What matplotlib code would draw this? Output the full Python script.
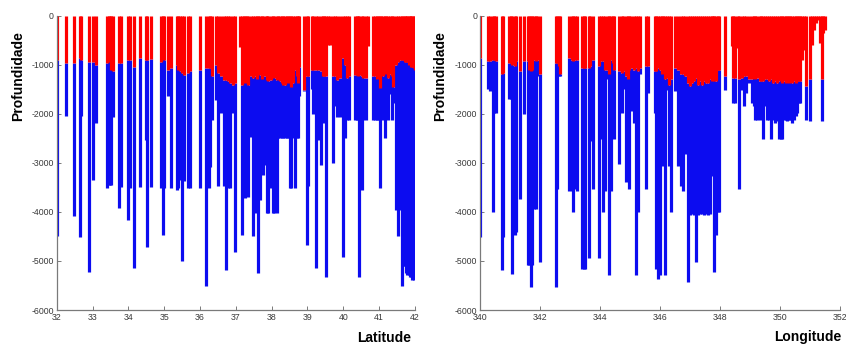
import matplotlib
matplotlib.use("Agg")
import matplotlib.pyplot as plt

plt.rcParams['axes.unicode_minus'] = False
plt.rcParams['font.family'] = ['Liberation Sans', 'DejaVu Sans']

# ---- Left panel: Latitude profiles (position, depth of red layer, bottom depth)
lat = [32.00, 32.25, 32.48, 32.64, 32.69, 32.91, 33.00, 33.11, 33.40, 33.45, 33.49, 33.52, 33.58,
       33.75, 33.79, 34.00, 34.05, 34.15, 34.33, 34.48, 34.51, 34.62, 34.90, 34.96, 35.00, 35.12,
       35.18, 35.35, 35.40, 35.44, 35.50, 35.55, 35.67, 35.72, 36.00, 36.16, 36.25, 36.29, 36.33,
       36.45, 36.51, 36.59, 36.68, 36.73, 36.78, 36.84, 36.93, 36.98, 37.13, 37.18, 37.22, 37.26,
       37.30, 37.35, 37.41, 37.47, 37.53, 37.58, 37.63, 37.67, 37.72, 37.77, 37.83, 37.86, 37.91,
       37.97, 38.03, 38.07, 38.14, 38.18, 38.23, 38.28, 38.33, 38.37, 38.42, 38.47, 38.51, 38.54,
       38.60, 38.65, 38.70, 38.74, 38.77, 38.90, 38.98, 39.01, 39.12, 39.16, 39.23, 39.30, 39.37,
       39.42, 39.47, 39.52, 39.57, 39.62, 39.72, 39.77, 39.83, 39.91, 40.00, 40.05, 40.09, 40.17,
       40.33, 40.37, 40.41, 40.45, 40.51, 40.55, 40.62, 40.70, 40.84, 40.88, 40.93, 40.98, 41.02,
       41.06, 41.10, 41.16, 41.20, 41.24, 41.30, 41.35, 41.40, 41.47, 41.53, 41.58, 41.63, 41.67,
       41.72, 41.76, 41.79, 41.83, 41.86, 41.90, 41.93, 41.97, 42.00]
red_lat = [-900, -970, -970, -870, -900, -940, -940, -1000, -970, -940, -900, -1110, -1140,
           -970, -970, -900, -900, -1040, -870, -900, -900, -890, -940, -870, -900, -1100,
           -1070, -1000, -1110, -1140, -1180, -1210, -1180, -1140, -1110, -1070, -1070, -1070, -1240,
           -1000, -1180, -1240, -1310, -1310, -1340, -1380, -1410, -1380, -650, -1410, -1380, -1310,
           -1380, -1410, -1240, -1280, -1240, -1300, -1180, -1210, -1300, -1240, -1240, -1310, -1340,
           -1310, -1240, -1280, -1310, -1280, -1340, -1380, -1410, -1410, -1380, -1340, -1380, -1450,
           -1380, -1110, -1240, -1380, -1040, -1510, -1240, -1240, -1110, -1110, -1110, -1110, -1140,
           -1240, -1240, -1240, -600, -600, -1240, -1240, -1310, -1280, -870, -1000, -1280, -1240,
           -1210, -1210, -1240, -1210, -1240, -1280, -1280, -630, -1240, -1240, -1300, -1280, -1480,
           -1200, -1240, -1110, -1200, -1280, -1200, -1240, -1450, -1000, -940, -900, -900, -900,
           -940, -940, -940, -1000, -970, -1040, -1040, -1070, -1110]
bot_lat = [-4500, -2040, -4080, -4520, -2040, -5220, -3350, -2180, -3520, -3450, -3450, -3450, -2060,
           -3930, -3500, -4160, -3520, -5150, -3500, -2530, -4710, -3500, -3520, -4470, -3520, -1650,
           -3520, -3550, -3520, -3350, -5010, -3380, -3520, -3520, -3520, -5520, -3520, -3080, -2130,
           -1720, -3480, -1990, -3480, -5180, -3520, -3520, -1990, -4810, -650, -4470, -3000, -3720,
           -1720, -3690, -2470, -4500, -4030, -3000, -5250, -3760, -3200, -3250, -3040, -4030, -4030,
           -3520, -4030, -4030, -4030, -2500, -2500, -2500, -2500, -2500, -2500, -2500, -3520, -3520,
           -2500, -3520, -2500, -2500, -1650, -1540, -4670, -3480, -1500, -2000, -5150, -2530, -3040,
           -2190, -1500, -5320, -600, -600, -3010, -1850, -2060, -2060, -4910, -2500, -2130, -2130,
           -2130, -2130, -2130, -5320, -3550, -2130, -2130, -630, -2130, -2130, -2130, -2130, -3520,
           -1600, -2130, -2500, -1800, -2130, -1600, -2130, -1790, -3960, -4500, -3960, -5520, -5110,
           -5110, -5250, -5290, -5290, -5320, -5320, -5390, -5390, -4980]

# ---- Right panel: Longitude profiles
lon = [340.00, 340.28, 340.34, 340.42, 340.47, 340.53, 340.73, 340.76, 340.97, 341.03, 341.08,
       341.15, 341.21, 341.34, 341.45, 341.59, 341.63, 341.69, 341.74, 341.80, 341.85, 341.91,
       341.99, 342.52, 342.57, 342.63, 342.68, 342.98, 343.05, 343.10, 343.18, 343.23, 343.40,
       343.47, 343.51, 343.62, 343.68, 343.75, 343.95, 344.03, 344.09, 344.17, 344.25, 344.30,
       344.35, 344.42, 344.48, 344.64, 344.72, 344.78, 344.87, 344.92, 344.98, 345.03, 345.13,
       345.19, 345.28, 345.33, 345.52, 345.61, 345.83, 345.88, 345.94, 345.99, 346.05, 346.10,
       346.18, 346.24, 346.29, 346.38, 346.49, 346.60, 346.69, 346.77, 346.82, 346.93, 347.00,
       347.06, 347.13, 347.20, 347.26, 347.33, 347.40, 347.46, 347.53, 347.59, 347.65, 347.73,
       347.77, 347.81, 347.87, 347.92, 347.98, 348.17, 348.39, 348.44, 348.51, 348.59, 348.64,
       348.72, 348.79, 348.86, 348.97, 349.06, 349.12, 349.17, 349.25, 349.34, 349.38, 349.45,
       349.50, 349.58, 349.64, 349.71, 349.78, 349.82, 349.89, 349.97, 350.02, 350.08, 350.13,
       350.19, 350.24, 350.30, 350.35, 350.41, 350.46, 350.52, 350.57, 350.63, 350.68, 350.74,
       350.80, 350.88, 351.00, 351.07, 351.13, 351.20, 351.27, 351.33, 351.39, 351.45, 351.51]
red_lon = [-865, -930, -930, -900, -900, -930, -1200, -1170, -970, -970, -1000,
           -1030, -930, -1140, -930, -930, -1100, -1140, -1100, -900, -930, -900,
           -1200, -970, -970, -1030, -1200, -865, -900, -930, -900, -900, -1070,
           -1070, -1070, -1070, -1030, -900, -1030, -930, -930, -1100, -1100, -1200,
           -900, -970, -1100, -1140, -1170, -1140, -1240, -1300, -1100, -1070, -1100,
           -1070, -1140, -1070, -1030, -1030, -1140, -1140, -1070, -1100, -1200, -1100,
           -1300, -1270, -1410, -1300, -1070, -1100, -1200, -1200, -1240, -1370, -1440,
           -1370, -1340, -1270, -1410, -1340, -1410, -1340, -1370, -1370, -1300, -1340,
           -1300, -1340, -1340, -1100, -1100, -1240, -630, -1270, -1270, -660, -1300,
           -1270, -1240, -1240, -1300, -1300, -1270, -1300, -1270, -1340, -1340, -1340,
           -1300, -1300, -1340, -1300, -1370, -1340, -1370, -1340, -1300, -1370, -1340,
           -1370, -1340, -1370, -1340, -1370, -1340, -1370, -1340, -1340, -1340, -900,
           -700, -1440, -1300, -600, -300, -150, -100, -550, -1300, -350, -300]
bot_lon = [-4510, -1500, -1540, -4010, -1980, -1980, -5190, -4510, -1710, -1710, -5260,
           -4480, -4410, -3740, -2010, -5090, -5090, -5530, -5090, -3940, -3940, -1240,
           -5020, -5530, -3530, -1240, -1240, -3570, -3570, -4010, -3530, -3570, -5160,
           -5160, -5160, -4950, -2550, -3530, -4950, -2520, -4010, -3570, -1300, -5290,
           -3570, -2390, -2520, -3030, -1980, -1500, -3400, -1950, -3530, -1950, -2180,
           -5290, -4010, -1200, -3530, -1570, -1980, -5160, -5360, -5290, -2150, -3060,
           -5290, -1510, -3060, -4010, -1540, -3060, -3470, -3570, -2820, -5430, -4070,
           -4040, -4070, -5020, -4070, -4040, -4040, -4070, -4040, -4070, -4040, -3260,
           -2590, -5220, -4480, -4010, -4010, -1510, -630, -1780, -1780, -660, -3530,
           -1510, -1850, -1570, -1370, -1780, -1850, -2120, -2120, -2120, -1850, -2520,
           -1850, -2120, -2120, -2520, -2120, -2180, -2150, -2520, -2520, -2520, -2120,
           -2120, -2150, -2120, -2120, -2180, -2120, -2050, -1980, -1780, -1780, -900,
           -700, -2120, -2150, -600, -300, -150, -100, -550, -2150, -350, -300]

lat_ticks = list(range(32, 43))
lon_ticks = list(range(340, 353, 2))
depth_ticks = [0, -1000, -2000, -3000, -4000, -5000, -6000]

RED = '#ff0000'
BLUE = '#0c0cf0'
LW = 2.3

fig = plt.figure(figsize=(8.46, 3.47), dpi=100)
axL = fig.add_axes([0.067, 0.1066, 0.4235, 0.8487])
axR = fig.add_axes([0.5674, 0.1066, 0.4255, 0.8487])


def draw(ax, xs, reds, bots, xlim, xticks):
    ax.vlines(xs, bots, reds, colors=BLUE, linewidth=LW)
    ax.vlines(xs, reds, [0] * len(xs), colors=RED, linewidth=LW)
    ax.set_xlim(*xlim)
    ax.set_ylim(-6000, 0)
    ax.set_xticks(xticks)
    ax.set_yticks(depth_ticks)
    ax.set_yticklabels([str(t) for t in depth_ticks])
    ax.set_xticklabels([str(t) for t in xticks])
    for s in ['top', 'right']:
        ax.spines[s].set_visible(False)
    for s in ['left', 'bottom']:
        ax.spines[s].set_color('#7a7a7a')
        ax.spines[s].set_linewidth(0.9)
    ax.tick_params(direction='in', length=3, width=0.7, colors='#7a7a7a',
                   labelcolor='#3a3a3a', labelsize=6.3, pad=2)


draw(axL, lat, red_lat, bot_lat, (32, 42), lat_ticks)
draw(axR, lon, red_lon, bot_lon, (340, 352), lon_ticks)

fig.text(18 / 846, 1 - 76 / 347, 'Profundidade', rotation=90, ha='center', va='center',
         fontsize=10, fontweight='bold')
fig.text(440 / 846, 1 - 76 / 347, 'Profundidade', rotation=90, ha='center', va='center',
         fontsize=10, fontweight='bold')
fig.text(384 / 846, 1 - 338 / 347, 'Latitude', ha='center', va='center',
         fontsize=10, fontweight='bold')
fig.text(808 / 846, 1 - 337 / 347, 'Longitude', ha='center', va='center',
         fontsize=10, fontweight='bold')

fig.savefig('out.png', dpi=100, facecolor='white')
